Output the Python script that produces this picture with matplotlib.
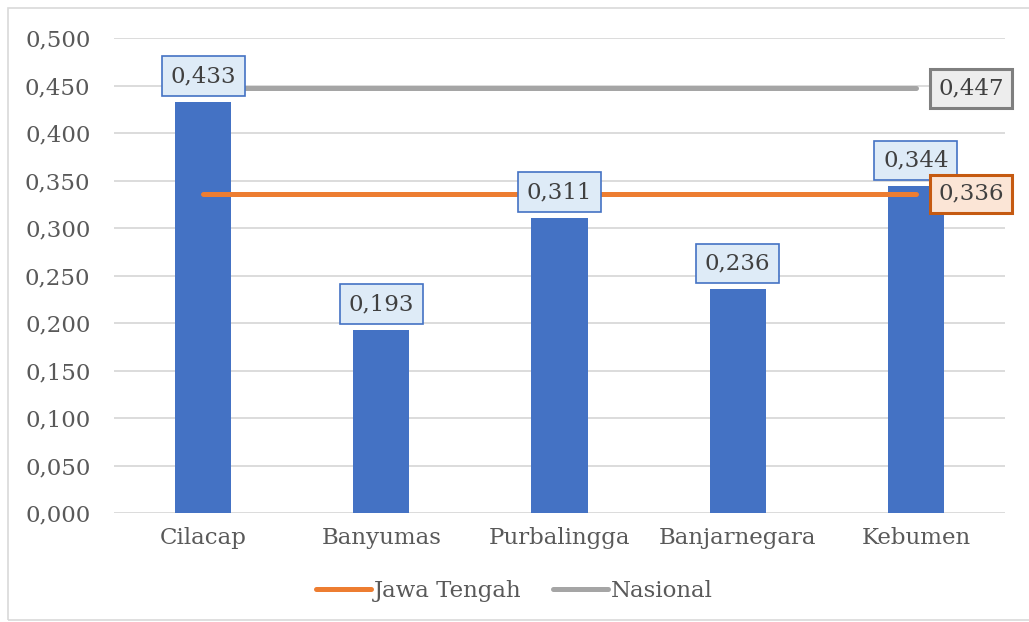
import numpy as np
import matplotlib.pyplot as plt
from matplotlib.patches import Rectangle

categories = ['Cilacap', 'Banyumas', 'Purbalingga', 'Banjarnegara', 'Kebumen']
values = [0.433, 0.193, 0.311, 0.236, 0.344]
jawa_tengah = [0.336] * 5
nasional = [0.447] * 5
yticks = [0.0, 0.05, 0.10, 0.15, 0.20, 0.25, 0.30, 0.35, 0.40, 0.45, 0.50]

plt.rcParams['font.family'] = ['DejaVu Serif']
text_color = '#595959'
fs = 16.5


def fmt(v):
    return f'{v:.3f}'.replace('.', ',')


fig = plt.figure(figsize=(10.29, 6.22), dpi=100)
ax = fig.add_axes([114 / 1029, 109 / 622, 891 / 1029, 475 / 622])

# chart border
fig.patches.append(Rectangle((8 / 1029, 2 / 622), 1030 / 1029, 612 / 622, transform=fig.transFigure,
                             fill=False, edgecolor='#D9D9D9', linewidth=1.2))

x = np.arange(len(categories))
ax.bar(x, values, width=0.315, color='#4472C4', zorder=2)

ax.plot(x, jawa_tengah, color='#ED7D31', linewidth=3.6, solid_capstyle='round', label='Jawa Tengah', zorder=3)
ax.plot(x, nasional, color='#A5A5A5', linewidth=3.6, solid_capstyle='round', label='Nasional', zorder=3)

# bar value labels
for xi, v in zip(x, values):
    ax.annotate(fmt(v), (xi, v), xytext=(0, 10.5), textcoords='offset points', ha='center', va='bottom',
                fontsize=fs, color='#404040', zorder=4,
                bbox=dict(boxstyle='square,pad=0.38', fc='#DEEBF7', ec='#4472C4', lw=1.2))

# line end labels
ax.annotate(fmt(nasional[-1]), (x[-1], nasional[-1]), xytext=(16, 0), textcoords='offset points',
            ha='left', va='center', fontsize=fs, color='#404040', zorder=5, annotation_clip=False,
            bbox=dict(boxstyle='square,pad=0.36', fc='#EDEDED', ec='#7F7F7F', lw=2.2))
ax.annotate(fmt(jawa_tengah[-1]), (x[-1], jawa_tengah[-1]), xytext=(16, 0), textcoords='offset points',
            ha='left', va='center', fontsize=fs, color='#404040', zorder=5, annotation_clip=False,
            bbox=dict(boxstyle='square,pad=0.36', fc='#FBE5D6', ec='#C55A11', lw=2.2))

ax.set_xlim(-0.5, len(categories) - 0.5)
ax.set_ylim(0, 0.5)
ax.set_yticks(yticks)
ax.set_yticklabels([fmt(t) for t in yticks])
ax.set_xticks(x)
ax.set_xticklabels(categories)
ax.tick_params(axis='both', length=0, labelsize=fs, colors=text_color)
ax.tick_params(axis='y', pad=17)
ax.tick_params(axis='x', pad=10)
ax.grid(axis='y', color='#D9D9D9', linewidth=1.3, zorder=0)
ax.set_axisbelow(True)
for s in ax.spines.values():
    s.set_visible(False)

leg = fig.legend(loc='center', bbox_to_anchor=(0.5, (622 - 591) / 622), ncol=2, frameon=False,
                 fontsize=fs, handlelength=2.4, handletextpad=0.1, columnspacing=1.4)
for t in leg.get_texts():
    t.set_color(text_color)

fig.savefig('out.png', dpi=100)
